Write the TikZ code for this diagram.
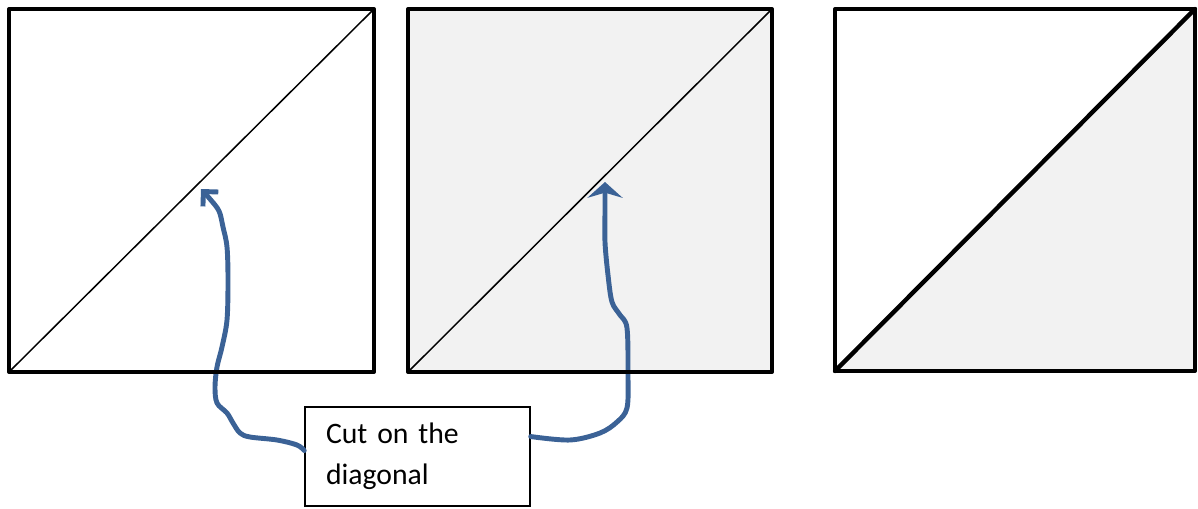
\documentclass[tikz,border=0pt]{standalone}
\usepackage{xcolor}
\usepackage{fontspec}
\newfontfamily\calibri[WordSpace=0.7]{Carlito}
\usepackage{tikz}
\usetikzlibrary{arrows.meta}
\definecolor{panelgray}{HTML}{F2F2F2}
\definecolor{penblue}{RGB}{59,98,150}
\begin{document}
\begin{tikzpicture}[x=0.02cm,y=-0.02cm,
  square/.style={line width=2.3pt,line join=round},
  thindiag/.style={line width=0.85pt},
  thickdiag/.style={line width=2.5pt,line cap=round},
  pen/.style={penblue,line width=2.8pt,line cap=round,line join=round},
  cutbox/.style={draw,line width=0.85pt,fill=white,minimum height=1.98cm,text width=3.66cm,align=left,inner xsep=0.42cm,inner ysep=0pt,font=\calibri\fontsize{16.9}{23.2}\selectfont}]
\useasboundingbox (0,0) rectangle (1198,508);
% panels and their diagonals
\fill[white] (9,9) rectangle (374,372);
\draw[thindiag] (9,372) -- (374,9);
\fill[panelgray] (408,9) rectangle (772,372);
\draw[thindiag] (408,372) -- (772,9);
\fill[white] (835,9) rectangle (1195,371);
\fill[panelgray] (835,371) -- (1195,9) -- (1195,371) -- cycle;
\draw[thickdiag] (835,371) -- (1195,9);
% label box
\node[cutbox] (cut) at (417.5,456.5) {Cut on the\\diagonal\par\vspace{-0.18cm}};
\coordinate (tipA) at (201,189);
\coordinate (tipB) at (605,182);
% hand drawn pointers
\draw[pen,->,>={Straight Barb[length=6pt,width=12pt]}] plot[smooth,tension=0.55] coordinates {(cut.177) (297,445) (277,440) (250,437) (240,433) (233,423) (227,413) (217,403) (215,387) (217,367) (222,347) (227,320) (228,280) (227,247) (223,227) (219,211) (210,199) (tipA)};
\draw[pen,->,>={Stealth[length=9pt,width=20pt]}] plot[smooth,tension=0.55] coordinates {(cut.10) (570,440) (600,433) (617,422) (627,408) (628,375) (627,328) (620,315) (612,302) (608,275) (605,242) (605,210) (tipB)};
% panel borders
\foreach \xa/\xb/\yb in {9/374/372,408/772/372,835/1195/371}
{
    \draw[square] (\xa,9) rectangle (\xb,\yb);
}
\end{tikzpicture}
\end{document}
